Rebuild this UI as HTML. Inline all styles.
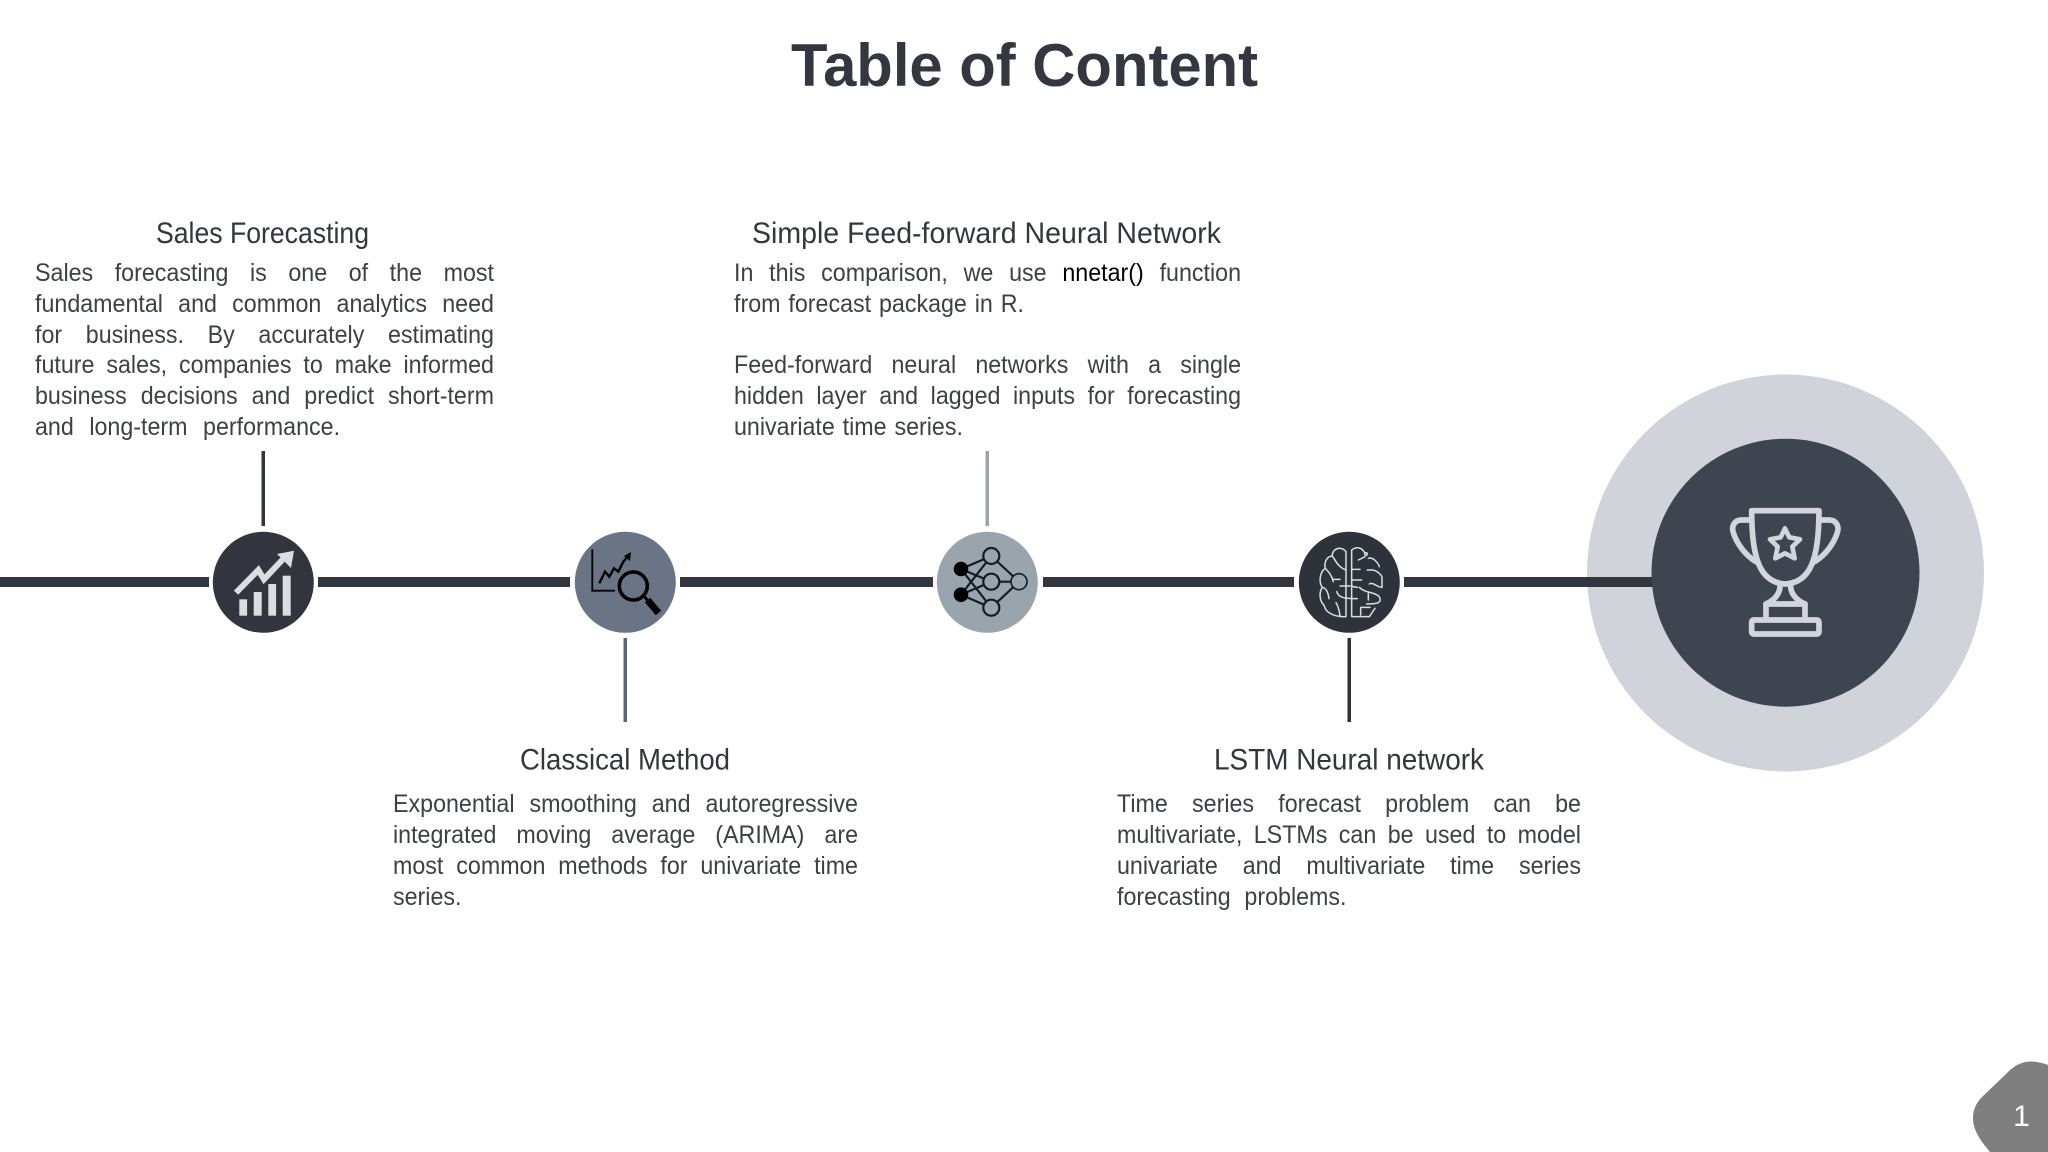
<!DOCTYPE html>
<html lang="en">
<head>
<meta charset="utf-8">
<title>Table of Content</title>
<style>
html,body{margin:0;padding:0;background:#fff;width:2048px;height:1152px;overflow:hidden}
svg{position:absolute;left:0;top:0}
.b{position:absolute;font-family:"Liberation Sans",sans-serif;font-size:25px;line-height:30.8px;color:#3d4047;transform:scaleX(.93);transform-origin:0 0}
.b div{height:30.8px;text-align:justify;text-align-last:justify}
.b b{font-weight:normal;color:#000}
</style>
</head>
<body>
<svg width="2048" height="1152" viewBox="0 0 2048 1152" xmlns="http://www.w3.org/2000/svg" font-family="Liberation Sans, sans-serif">
  <text x="1024.5" y="86" text-anchor="middle" font-size="60" font-weight="bold" fill="#333740" textLength="467" lengthAdjust="spacingAndGlyphs">Table of Content</text>

  <circle cx="1785.5" cy="573" r="198.5" fill="#d0d3da"/>

  <g fill="#33363e">
    <rect x="0" y="577" width="209" height="10"/>
    <rect x="318" y="577" width="252" height="10"/>
    <rect x="680" y="577" width="253" height="10"/>
    <rect x="1043" y="577" width="251" height="10"/>
    <rect x="1404" y="577" width="250" height="10"/>
  </g>

  <rect x="261.5" y="451" width="3.5" height="75" fill="#33363e"/>
  <rect x="623.5" y="638" width="3.5" height="84" fill="#5d6675"/>
  <rect x="985.5" y="451" width="3.5" height="75" fill="#9aa4ad"/>
  <rect x="1347.5" y="638" width="3.5" height="84" fill="#2e323a"/>

  <circle cx="263.3" cy="582.3" r="50.5" fill="#32353d"/>
  <circle cx="625.3" cy="582.3" r="50.5" fill="#6b7484"/>
  <circle cx="987.3" cy="582.3" r="50.5" fill="#9aa4ad"/>
  <circle cx="1349.3" cy="582.3" r="50.5" fill="#2e323a"/>
  <circle cx="1785.5" cy="572.7" r="134" fill="#3f4550"/>

  <!-- chart icon -->
  <g fill="#dcdde3">
    <rect x="239.3" y="599.3" width="7.8" height="16.4"/>
    <rect x="253.7" y="592" width="8" height="23.7"/>
    <rect x="268.3" y="584" width="7.8" height="31.7"/>
    <rect x="282.7" y="575.7" width="8" height="40"/>
    <polygon points="294,550.7 277,554 291,568"/>
  </g>
  <polyline points="236,592.7 258.3,570 264,579.3 286,556" fill="none" stroke="#dcdde3" stroke-width="6"/>

  <!-- magnifier icon -->
  <g fill="none" stroke="#000">
    <polyline points="592.3,549.3 592.3,590.7 615,590.7" stroke-width="1.8"/>
    <polyline points="599.3,583.3 605,571.7 609.3,576.7 614,568.3 618.3,571.7 623.3,561.7 629,555" stroke-width="2.4"/>
    <circle cx="633.3" cy="586" r="14" stroke-width="3.6"/>
    <line x1="644" y1="596" x2="648" y2="601" stroke-width="3"/>
    <line x1="647.5" y1="600" x2="658.5" y2="613" stroke-width="7"/>
  </g>
  <polygon points="631,552 624,556 630,561" fill="#000"/>

  <!-- network icon -->
  <g fill="none" stroke="#111c24" stroke-width="2.2">
    <path d="M961,569L991.3,556M961,569L991.3,581.7M961,569L991.3,607.7M961,594.7L991.3,556M961,594.7L991.3,581.7M961,594.7L991.3,607.7M991.3,556L1019,581.7M991.3,581.7L1019,581.7M991.3,607.7L1019,581.7"/>
    <circle cx="991.3" cy="556" r="8" fill="#9aa4ad"/>
    <circle cx="991.3" cy="581.7" r="8" fill="#9aa4ad"/>
    <circle cx="991.3" cy="607.7" r="8" fill="#9aa4ad"/>
    <circle cx="1019" cy="581.7" r="8" fill="#9aa4ad" stroke-width="1.6"/>
  </g>
  <circle cx="961" cy="569" r="7.3" fill="#000"/>
  <circle cx="961" cy="594.7" r="7.3" fill="#000"/>

  <!-- brain icon -->
  <g transform="translate(1270,500) scale(.3333)" fill="none" stroke="#dcdde3" stroke-width="4.5" stroke-linecap="round" stroke-linejoin="round">
    <path d="M228,155C215,140 190,140 186,168C168,170 162,190 166,205C150,215 145,245 157,262C145,280 150,305 163,317C165,335 190,352 228,350Z"/>
    <path d="M166,205C175,215 185,225 190,245M190,238H210M157,262C170,265 175,280 177,296M186,168C195,175 200,200 228,210M200,275C205,290 215,296 262,296M210,258H240M198,308C205,320 208,330 210,348"/>
    <path d="M245,150V350M245,150C258,140 275,140 285,160M245,208H270M245,240H275M245,258C255,262 258,262 262,262M245,350H298L315,325"/>
    <circle cx="288" cy="162" r="4"/>
    <path d="M265,180L285,170M295,175C310,170 325,190 328,200M292,210H305C320,210 335,225 336,232V262C320,262 310,245 298,252"/>
    <path d="M268,262C285,280 315,275 328,290C335,305 330,312 290,312M295,280V300M272,322V345M272,322H300"/>
  </g>

  <!-- trophy icon -->
  <g transform="translate(1670,460) scale(.3333)" fill="none" stroke="#d2d5dc" stroke-width="17" stroke-linecap="round" stroke-linejoin="round">
    <path d="M245,152H447C447,300 420,368 346,372C272,368 245,300 245,152Z"/>
    <path d="M245,180H215C192,180 184,200 190,218C200,250 225,285 258,305"/>
    <path d="M447,180H477C500,180 508,200 502,218C492,250 467,285 434,305"/>
    <path d="M330,378C330,400 315,420 288,432H405C378,420 362,400 362,378"/>
    <path d="M288,432V480M405,432V480"/>
    <rect x="245" y="480" width="202" height="42" rx="6"/>
    <path stroke-width="14" d="M345,205L358,232L390,238L367,260L374,295L345,280L316,295L323,260L300,238L332,232Z"/>
  </g>

  <!-- headings -->
  <g font-size="30" fill="#33363e">
    <text x="156" y="243" textLength="213" lengthAdjust="spacingAndGlyphs">Sales Forecasting</text>
    <text x="752" y="243" textLength="469" lengthAdjust="spacingAndGlyphs">Simple Feed-forward Neural Network</text>
    <text x="520" y="769.5" textLength="210" lengthAdjust="spacingAndGlyphs">Classical Method</text>
    <text x="1214" y="769.5" textLength="270" lengthAdjust="spacingAndGlyphs">LSTM Neural network</text>
  </g>

  <!-- page tab -->
  <path d="M2048,1065C2040,1062 2030,1060 2022,1063C2015,1065 2010,1070 2005,1075L1982,1097C1976,1103 1973,1110 1973,1118C1973,1130 1980,1140 1990,1152H2048Z" fill="#7f7f7f"/>
  <text x="2021.5" y="1126" text-anchor="middle" font-size="30" fill="#fff">1</text>
</svg>

<div class="b" style="left:35px;top:258px;width:493.5px">
  <div>Sales forecasting is one of the most</div>
  <div>fundamental and common analytics need</div>
  <div>for business. By accurately estimating</div>
  <div>future sales, companies to make informed</div>
  <div>business decisions and predict short-term</div>
  <div style="width:328px">and long-term performance.</div>
</div>

<div class="b" style="left:734px;top:258px;width:545.2px">
  <div>In this comparison, we use <b>nnetar()</b> function</div>
  <div style="width:311.8px">from forecast package in R.</div>
  <div></div>
  <div>Feed-forward neural networks with a single</div>
  <div>hidden layer and lagged inputs for forecasting</div>
  <div style="width:246.2px">univariate time series.</div>
</div>

<div class="b" style="left:393px;top:789.3px;width:500px">
  <div>Exponential smoothing and autoregressive</div>
  <div>integrated moving average (ARIMA) are</div>
  <div>most common methods for univariate time</div>
  <div style="width:70px">series.</div>
</div>

<div class="b" style="left:1117px;top:789.3px;width:498.9px">
  <div>Time series forecast problem can be</div>
  <div>multivariate, LSTMs can be used to model</div>
  <div>univariate and multivariate time series</div>
  <div style="width:246.8px">forecasting problems.</div>
</div>
</body>
</html>
